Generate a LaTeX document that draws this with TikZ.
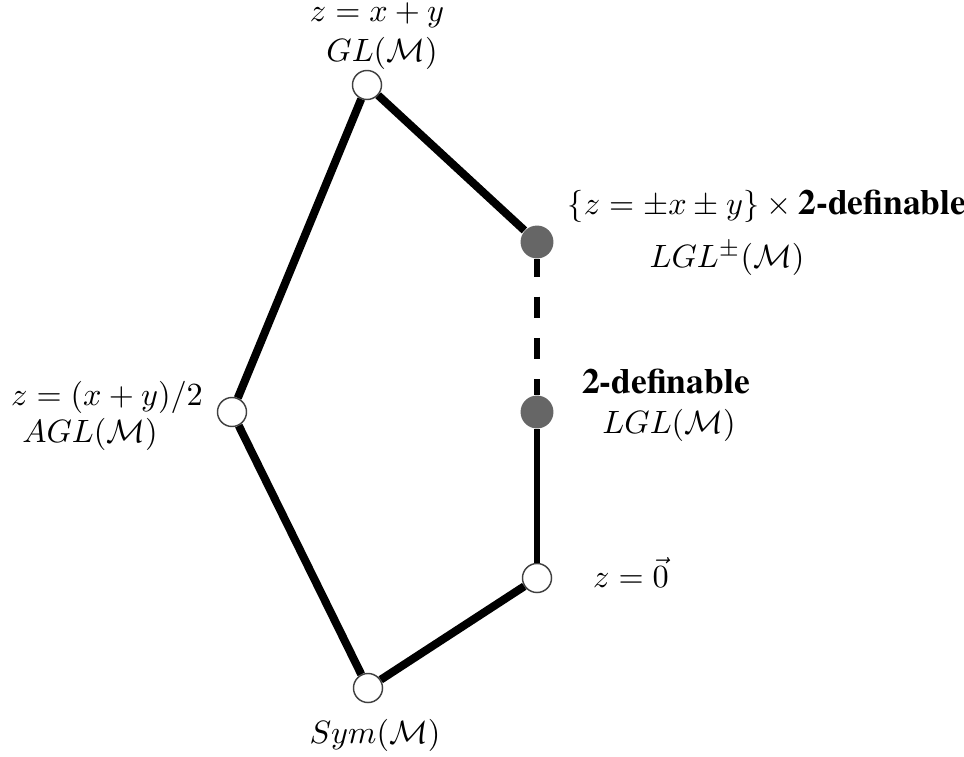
\documentclass[tikz,border=0pt]{standalone}
\usepackage{fontspec}
\newfontfamily\tnrb{texgyretermes-bold.otf}
\begin{document}
\begin{tikzpicture}[x=0.31pt,y=-0.31pt,
  opennode/.style={circle,draw=black!75,fill=white,line width=0.45pt,minimum size=9pt,inner sep=0pt},
  fullnode/.style={circle,fill=black!60,draw=none,minimum size=10.2pt,inner sep=0pt},
  edge/.style={line width=2.5pt},
  thinedge/.style={line width=1.9pt},
  lab/.style={anchor=base,inner sep=0pt},
  bf/.style={font=\tnrb\fontsize{11}{13}\selectfont}]
\useasboundingbox (0,0) rectangle (964,757);
\node[opennode] (gl) at (367,85) {};
\node[fullnode] (lglpm) at (537,242) {};
\node[fullnode] (lgl) at (537,412) {};
\node[opennode] (zero) at (537,578) {};
\node[opennode] (sym) at (368,688) {};
\node[opennode] (agl) at (232,412) {};
\draw[edge] (gl) -- (agl);
\draw[edge] (agl) -- (sym);
\draw[edge] (sym) -- (zero);
\draw[edge] (gl) -- (lglpm);
\draw[thinedge] (lgl) -- (zero);
\draw[thinedge,dash pattern=on 6.6pt off 6.2pt,dash phase=1.2pt] (lglpm) -- (lgl);
\node[lab] (t1) at (377,22) {$z=x+y$};
\node[lab] (t2) at (382,62) {$GL(\mathcal{M})$};
\node[lab,anchor=base west] (t3) at (567,215) {$\{z=\pm x\pm y\}\times\mbox{\tnrb\fontsize{11}{13}\selectfont 2-definable}$};
\node[lab] (t4) at (727,267) {$LGL^{\pm}(\mathcal{M})$};
\node[lab,bf] (t5) at (666,393) {2-definable};
\node[lab] (t6) at (669,433) {$LGL(\mathcal{M})$};
\node[lab] (t7) at (107,405) {$z=(x+y)/2$};
\node[lab] (t8) at (90,442) {$AGL(\mathcal{M})$};
\node[lab] (t9) at (631,587) {$z=\vec{0}$};
\node[lab] (t10) at (375,743) {$Sym(\mathcal{M})$};
\end{tikzpicture}
\end{document}
